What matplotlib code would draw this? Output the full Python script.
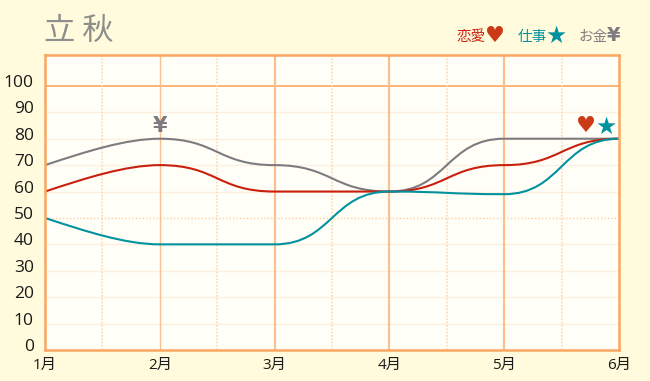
import matplotlib
matplotlib.use("Agg")
import matplotlib.pyplot as plt
from matplotlib.path import Path
from matplotlib.patches import PathPatch
from matplotlib.transforms import ScaledTranslation

plt.rcParams['font.family'] = ['Open Sans', 'Noto Sans CJK JP', 'DejaVu Sans']

# values, one per month
months = ['1月', '2月', '3月', '4月', '5月', '6月']
y_ticks = [0, 10, 20, 30, 40, 50, 60, 70, 80, 90, 100]
love = [60, 70, 60, 60, 70, 80]
work = [50, 40, 40, 60, 59, 80]
money = [70, 80, 70, 60, 80, 80]

BG = '#FFFBDC'
PLOT_BG = '#FFFEF7'
ORANGE = '#FBA661'
RED = '#C9200E'
TEAL = '#00929F'
GRAY = '#7E7B80'


def curve(values, handle=0.5):
    # flat handles at each month, only the first month leaves on a slope
    verts = [(0, values[0])]
    codes = [Path.MOVETO]
    for i in range(len(values) - 1):
        if i == 0:
            c1 = (0.35, values[0] + 0.5 * (values[1] - values[0]))
            c2 = (0.7, values[1])
        else:
            c1 = (i + handle, values[i])
            c2 = (i + 1 - handle, values[i + 1])
        verts += [c1, c2, (i + 1, values[i + 1])]
        codes += [Path.CURVE4, Path.CURVE4, Path.CURVE4]
    return Path(verts, codes)


fig = plt.figure(figsize=(6.5, 3.81), dpi=100, facecolor=BG)
ax = fig.add_axes([45 / 650, 1 - 350 / 381, 574 / 650, 295 / 381], facecolor=PLOT_BG)
ax.set_xlim(0, 5)
ax.set_ylim(0, 111.7)

# grid
for v in y_ticks:
    if v == 100:
        ax.axhline(v, color=ORANGE, lw=1.2, zorder=1)
    elif v == 50:
        ax.axhline(v, color='#FBCFA6', lw=1, ls=(0, (1, 1.5)), zorder=1)
    elif v > 0:
        ax.axhline(v, color='#FDF0E0', lw=1, zorder=1)
for i in range(1, 5):
    ax.axvline(i, color='#FBC08F', lw=1.0 if i == 1 else 1.6, zorder=1)
for i in range(5):
    ax.axvline(i + 0.5, color='#FBD9B8', lw=1.2, ls=(0, (1, 1)), zorder=1)

for vals, col in [(money, GRAY), (love, RED), (work, TEAL)]:
    ax.add_patch(PathPatch(curve(vals), fc='none', ec=col, lw=1.5, zorder=3,
                           capstyle='round'))

for s in ax.spines.values():
    s.set_color(ORANGE)
    s.set_linewidth(1.8)
    s.set_zorder(5)

ax.set_xticks(range(6), months)
ax.set_yticks(y_ticks)
ax.tick_params(axis='both', length=0, labelcolor='#1A1A1A')
ax.tick_params(axis='y', pad=8, labelsize=12.5)
ax.tick_params(axis='x', pad=6, labelsize=11)
for lab in ax.get_yticklabels():
    lab.set_transform(lab.get_transform() + ScaledTranslation(0, 5 / 100, fig.dpi_scale_trans))

# marks sitting on the curves
sym = ['DejaVu Sans']
ax.annotate('¥', (1, 80), xytext=(0, 13), textcoords='offset pixels', ha='center', va='center',
            color=GRAY, fontsize=15, fontweight='bold', family=sym)
ax.annotate('♥', (4.71, 80), xytext=(0, 13), textcoords='offset pixels', ha='center', va='center',
            color='#CB3A17', fontsize=16, family=sym)
ax.annotate('★', (4.89, 80), xytext=(0, 12), textcoords='offset pixels', ha='center', va='center',
            color=TEAL, fontsize=17, family=sym)

# title and legend, placed in pixels
fig.text(44 / 650, 1 - 31 / 381, '立 秋', color='#8E8E8C', fontsize=22.5, ha='left', va='center',
         family=['Noto Sans CJK JP'])
cjk = ['Noto Sans CJK JP']
for label, xl, mark, xm, col, mcol, fs in [
    ('恋愛', 457, '♥', 495, RED, '#CB3A17', 16),
    ('仕事', 518, '★', 556, TEAL, TEAL, 17),
    ('お金', 578, '¥', 614, GRAY, GRAY, 14),
]:
    fig.text(xl / 650, 1 - 36.5 / 381, label, color=col, fontsize=10.5, ha='left', va='center', family=cjk)
    fig.text(xm / 650, 1 - 35.5 / 381, mark, color=mcol, fontsize=fs, ha='center', va='center',
             family=sym, fontweight='bold' if mark == '¥' else 'normal')

fig.savefig('out.png', dpi=100, facecolor=BG)
